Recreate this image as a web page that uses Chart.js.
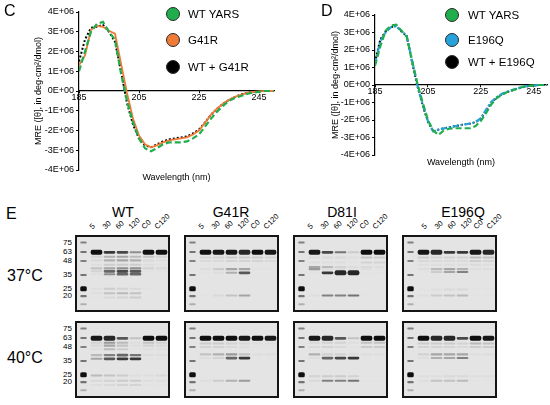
<!DOCTYPE html>
<html>
<head>
<meta charset="utf-8">
<script src="https://cdn.jsdelivr.net/npm/chart.js@4.4.1/dist/chart.umd.min.js"></script>
<style>
body { margin: 0; background: #fff; font-family: "Liberation Sans", Arial, sans-serif; }
#fig { position: relative; width: 550px; height: 405px; overflow: hidden; }
.abs { position: absolute; line-height: 1; white-space: nowrap; color: #000; }
.gel { position: absolute; border: 2px solid #151515; background: #e4e4e4; box-sizing: border-box; }
.gel canvas { display: block; }
.dot { position: absolute; width: 14px; height: 14px; border-radius: 50%; box-sizing: border-box; border: 1px solid #2a2a2a; }
.lane { position: absolute; font-size: 7.5px; line-height: 8px; transform-origin: 0 100%; transform: rotate(-45deg); white-space: nowrap; }
</style>
</head>
<body>
<div id="fig">
  <canvas id="cdC" width="275" height="195" style="position:absolute;left:0;top:0"></canvas>
  <canvas id="cdD" width="275" height="195" style="position:absolute;left:275px;top:0"></canvas>
</div>
<script>
// ---- CD spectra (MRE in units of 1E+06) ----
var wavelengths = [185, 187, 189, 191, 193, 195, 197, 199, 201, 203, 205, 207, 209, 211, 213, 215, 217,
                   219, 221, 223, 225, 227, 229, 231, 233, 235, 237, 239, 241, 243, 245, 247, 250];
var xTicks = [185, 205, 225, 245];

var namesC = ['WT YARS', 'G41R', 'WT + G41R'];
var wtC    = [1.0, 2.0, 3.0, 3.4, 3.5, 3.0, 2.6, 0.9, -0.5, -1.6, -2.4, -2.9, -3.05, -2.9, -2.7, -2.6, -2.6,
              -2.6, -2.55, -2.4, -2.2, -1.8, -1.4, -1.05, -0.75, -0.5, -0.35, -0.25, -0.15, -0.08, -0.04, 0, 0];
var g41rC  = [1.3, 1.8, 3.1, 3.3, 3.25, 3.05, 2.9, 1.4, -0.1, -1.4, -2.25, -2.7, -2.85, -2.75, -2.6, -2.5, -2.45,
              -2.4, -2.35, -2.2, -2.0, -1.6, -1.2, -0.9, -0.65, -0.45, -0.3, -0.2, -0.1, -0.05, -0.02, 0, 0];
var mixC   = [1.5, 2.6, 3.2, 3.25, 3.35, 3.0, 2.5, 1.0, -0.6, -1.7, -2.4, -2.75, -2.85, -2.7, -2.55, -2.45, -2.4,
              -2.35, -2.3, -2.15, -1.95, -1.6, -1.2, -0.9, -0.65, -0.45, -0.3, -0.18, -0.1, -0.04, 0, 0, 0];

var namesD = ['WT YARS', 'E196Q', 'WT + E196Q'];
var wtD    = [1.1, 2.2, 3.1, 3.4, 3.45, 3.1, 2.75, 1.4, 0.1, -1.0, -2.0, -2.6, -2.85, -2.6, -2.5, -2.47, -2.47,
              -2.47, -2.47, -2.35, -2.05, -1.6, -1.1, -0.75, -0.55, -0.4, -0.3, -0.2, -0.1, -0.05, -0.02, 0, 0];
var e196qD = [1.2, 2.5, 3.0, 3.3, 3.35, 3.1, 2.8, 1.4, 0.0, -1.1, -2.05, -2.65, -2.55, -2.48, -2.42, -2.36, -2.3,
              -2.25, -2.2, -2.12, -1.9, -1.4, -0.95, -0.7, -0.5, -0.38, -0.28, -0.18, -0.1, -0.05, -0.02, 0, 0];
var mixD   = [1.3, 2.6, 3.05, 3.3, 3.4, 3.05, 2.8, 1.3, -0.05, -1.15, -2.1, -2.65, -2.55, -2.48, -2.42, -2.36, -2.3,
              -2.25, -2.2, -2.12, -1.92, -1.45, -1.0, -0.72, -0.52, -0.4, -0.3, -0.2, -0.12, -0.06, -0.03, 0, 0];

// ---- SDS-PAGE gels: [position % of gel, 5, 30, 60, 120, C0, C120] band intensity ----
var laneLabels = ['M', '5', '30', '60', '120', 'C0', 'C120'];
var markerLabels = ['75', '63', '48', '35', '25', '20'];
var ladderBands = [[7.5, 0.6], [20.5, 0.65], [33, 0.6], [52, 0.65], [71, 1.0], [81, 0.65], [92, 0.4]];

var wt37 = [[21, 1, 0.85, 0.8, 0.55, 1, 1], [27, 0.2, 0.4, 0.45, 0.35, 0.3, 0.2], [32, 0.15, 0.4, 0.45, 0.4, 0.15, 0.1],
            [38, 0.1, 0.25, 0.25, 0.25, 0.1, 0.05], [43, 0.3, 0.45, 0.55, 0.55, 0.2, 0.15], [47, 0.2, 0.7, 0.8, 0.75, 0.05, 0.05],
            [51, 0.1, 0.55, 0.7, 0.7, 0, 0], [71, 0.1, 0.25, 0.2, 0.15, 0.05, 0], [77, 0.1, 0.3, 0.35, 0.3, 0, 0],
            [83, 0.05, 0.15, 0.2, 0.25, 0, 0]];
var g41r37 = [[21, 1, 0.95, 0.95, 0.9, 1, 0.95], [28, 0.2, 0.2, 0.25, 0.25, 0.25, 0.2], [33, 0.15, 0.15, 0.2, 0.2, 0.2, 0.15],
              [44, 0.1, 0.25, 0.45, 0.45, 0.05, 0.05], [49, 0.05, 0.1, 0.4, 0.75, 0, 0], [80, 0.05, 0.15, 0.3, 0.45, 0, 0]];
var d81i37 = [[21, 0.95, 0.8, 0.65, 0.25, 1, 1], [28, 0.15, 0.15, 0.15, 0.1, 0.3, 0.25], [35, 0.1, 0.1, 0.1, 0.05, 0.2, 0.2],
              [41, 0.45, 0.35, 0.2, 0.1, 0.15, 0.1], [44, 0.5, 0.1, 0.1, 0.05, 0.1, 0.05], [49, 0.05, 0.85, 0.9, 0.9, 0.05, 0.05],
              [80, 0.1, 0.6, 0.6, 0.65, 0.05, 0]];
var e196q37 = [[21, 0.95, 0.9, 0.85, 0.85, 0.95, 0.9], [28, 0.25, 0.2, 0.2, 0.2, 0.35, 0.3], [33, 0.15, 0.15, 0.15, 0.15, 0.25, 0.2],
               [38, 0.1, 0.1, 0.1, 0.1, 0.15, 0.1], [44, 0.1, 0.35, 0.45, 0.4, 0.1, 0.1], [48, 0.05, 0.25, 0.45, 0.6, 0, 0],
               [72, 0.05, 0.1, 0.15, 0.15, 0.05, 0.05], [80, 0.1, 0.25, 0.3, 0.35, 0.05, 0.05]];
var wt40 = [[21, 0.95, 0.9, 0.75, 0.3, 1, 1], [27, 0.2, 0.5, 0.35, 0.1, 0.3, 0.2], [31, 0.15, 0.45, 0.3, 0.1, 0.2, 0.15],
            [36, 0.1, 0.35, 0.25, 0.05, 0.1, 0.1], [44, 0.35, 0.6, 0.7, 0.65, 0.1, 0.1], [49, 0.45, 0.75, 0.85, 0.85, 0.05, 0.05],
            [72, 0.35, 0.3, 0.25, 0.1, 0.1, 0.15], [79, 0.15, 0.2, 0.25, 0.25, 0.1, 0.1], [85, 0.1, 0.15, 0.2, 0.2, 0.05, 0.05]];
var g41r40 = [[21, 1, 1, 1, 0.95, 1, 0.95], [28, 0.25, 0.25, 0.2, 0.15, 0.1, 0.1], [33, 0.2, 0.2, 0.15, 0.1, 0.05, 0.05],
              [43, 0.3, 0.4, 0.5, 0.3, 0.1, 0.1], [48, 0.1, 0.2, 0.7, 0.85, 0, 0], [79, 0.1, 0.25, 0.4, 0.5, 0, 0]];
var d81i40 = [[21, 0.95, 0.9, 0.75, 0.3, 1, 1], [27, 0.15, 0.2, 0.2, 0.1, 0.3, 0.3], [33, 0.15, 0.2, 0.15, 0.05, 0.25, 0.25],
              [43, 0.4, 0.2, 0.2, 0.1, 0.1, 0.1], [48, 0.1, 0.7, 0.8, 0.85, 0, 0], [73, 0.2, 0.25, 0.25, 0.2, 0.05, 0.05],
              [79, 0.15, 0.6, 0.6, 0.65, 0.05, 0.05]];
var e196q40 = [[21, 1, 0.9, 0.9, 0.8, 1, 0.95], [28, 0.25, 0.25, 0.25, 0.2, 0.35, 0.3], [33, 0.2, 0.2, 0.2, 0.15, 0.25, 0.25],
               [43, 0.2, 0.45, 0.45, 0.45, 0.1, 0.1], [48, 0.1, 0.4, 0.45, 0.6, 0, 0], [73, 0.1, 0.1, 0.15, 0.15, 0.1, 0.1],
               [79, 0.1, 0.3, 0.3, 0.35, 0.05, 0.05]];

Chart.defaults.font.family = '"Liberation Sans", Arial, sans-serif';
Chart.defaults.color = '#000';

var fig = document.getElementById('fig');

function addText(txt, left, top, size, center) {
    var s = document.createElement('span');
    s.className = 'abs';
    s.textContent = txt;
    s.style.left = left + 'px';
    s.style.top = top + 'px';
    s.style.fontSize = size + 'px';
    if (center) s.style.transform = 'translateX(-50%)';
    fig.appendChild(s);
    return s;
}

function drawCD(id, series, pad, yWidth) {
    new Chart(document.getElementById(id), {
        type: 'line',
        data: {
            datasets: series.map(function (s) {
                return {
                    label: s.name,
                    data: s.values.map(function (v, i) { return { x: wavelengths[i], y: v }; }),
                    borderColor: s.color,
                    borderWidth: s.width,
                    borderDash: s.dash,
                    pointRadius: 0,
                    tension: 0,
                    fill: false
                };
            })
        },
        options: {
            responsive: false,
            animation: false,
            layout: { padding: pad },
            plugins: { legend: { display: false }, tooltip: { enabled: false } },
            scales: {
                x: {
                    type: 'linear', min: 185, max: 250, position: { y: 0 },
                    afterFit: function (s) { s.height = 0; },
                    afterBuildTicks: function (s) { s.ticks = xTicks.map(function (v) { return { value: v }; }); },
                    grid: { drawOnChartArea: false, color: '#000', tickLength: 2 },
                    border: { color: '#000', width: 1.2 },
                    ticks: { font: { size: 9 }, padding: -1, maxRotation: 0 }
                },
                xt: {
                    type: 'linear', min: 185, max: 250, position: 'bottom',
                    afterFit: function (s) { s.height = 13; },
                    grid: { display: false }, border: { display: false }, ticks: { display: false },
                    title: { display: true, text: 'Wavelength (nm)', font: { size: 9 }, padding: 0 }
                },
                y: {
                    type: 'linear', min: -4, max: 4, position: 'left',
                    afterFit: function (s) { s.width = yWidth; },
                    ticks: {
                        stepSize: 1, font: { size: 9 }, padding: 2,
                        callback: function (v) { return v === 0 ? '0E+00' : v + 'E+06'; }
                    },
                    grid: { drawOnChartArea: false, color: '#000', tickLength: 3 },
                    border: { color: '#000', width: 1.2 },
                    title: { display: true, text: 'MRE ([θ], in deg·cm²/dmol)', font: { size: 9 }, padding: 0 }
                }
            }
        }
    });
}

function addLegend(names, colors, cx, cys, textLeft) {
    names.forEach(function (n, i) {
        var d = document.createElement('div');
        d.className = 'dot';
        d.style.left = (cx - 7) + 'px';
        d.style.top = (cys[i] - 7) + 'px';
        d.style.background = colors[i];
        fig.appendChild(d);
        var t = addText(n, textLeft, cys[i] - 6, 11.5);
        t.style.lineHeight = '12px';
    });
}

var green = '#1fae4b', orange = '#ef7b36', blue = '#27a2dc', black = '#000000';

drawCD('cdC', [
    { name: namesC[0], values: wtC, color: green, width: 2.2, dash: [6, 3] },
    { name: namesC[1], values: g41rC, color: orange, width: 1.8, dash: [] },
    { name: namesC[2], values: mixC, color: black, width: 2, dash: [2, 2] }
], { left: 33, top: 12, right: 1, bottom: 12 }, 46);

drawCD('cdD', [
    { name: namesD[0], values: wtD, color: green, width: 2.2, dash: [6, 3] },
    { name: namesD[1], values: e196qD, color: blue, width: 2.2, dash: [6, 2, 2, 2] },
    { name: namesD[2], values: mixD, color: black, width: 2, dash: [2, 2] }
], { left: 55, top: 15, right: 3, bottom: 27 }, 45);

addLegend(namesC, [green, orange, black], 173, [13.5, 40, 66.5], 188);
addLegend(namesD, [green, blue, black], 452, [15, 40, 62], 468);

addText('C', 4, 3, 16);
addText('D', 321, 3, 16);
addText('E', 6, 206, 16);

// ---- gels ----
function bandHalf(v) { return v >= 0.9 ? 3.4 : (v >= 0.7 ? 1.9 : 1.4); }
function shade(v) { return 'rgba(15,15,15,' + Math.min(1, 1.05 * Math.pow(v, 1.6)) + ')'; }

function drawGel(rows, left, top) {
    var W = 95, H = 77;
    var box = document.createElement('div');
    box.className = 'gel';
    box.style.left = left + 'px';
    box.style.top = top + 'px';
    box.style.width = W + 'px';
    box.style.height = H + 'px';
    var cv = document.createElement('canvas');
    cv.width = W - 4;
    cv.height = H - 4;
    box.appendChild(cv);
    fig.appendChild(box);

    var datasets = [];
    ladderBands.forEach(function (b) {
        datasets.push({
            data: laneLabels.map(function (l, i) { return i === 0 ? [b[0] - bandHalf(b[1]), b[0] + bandHalf(b[1])] : null; }),
            backgroundColor: shade(b[1]),
            barPercentage: 0.5, categoryPercentage: 1, grouped: false, borderRadius: 1.5, borderSkipped: false
        });
    });
    rows.forEach(function (r) {
        datasets.push({
            data: laneLabels.map(function (l, i) {
                return (i === 0 || !r[i]) ? null : [r[0] - bandHalf(r[i]), r[0] + bandHalf(r[i])];
            }),
            backgroundColor: laneLabels.map(function (l, i) { return shade(i === 0 ? 0 : r[i]); }),
            barPercentage: 0.9, categoryPercentage: 1, grouped: false,
            borderRadius: 2, borderSkipped: false
        });
    });

    new Chart(cv, {
        type: 'bar',
        data: { labels: laneLabels, datasets: datasets },
        options: {
            responsive: false,
            animation: false,
            layout: { padding: 0 },
            plugins: { legend: { display: false }, tooltip: { enabled: false } },
            scales: {
                x: { type: 'category', display: false, offset: true },
                y: { type: 'linear', min: 0, max: 100, reverse: true, display: false }
            }
        }
    });
}

function laneCenter(left, i) { return left + 2 + (i + 0.5) * 91 / 7; }

var gelTitles = ['WT', 'G41R', 'D81I', 'E196Q'];
var gelLefts = [75, 184, 293, 402];
var titleCenters = [123, 231, 342, 463];
var laneShift = [0, 0, 0, 5];
var gels37 = [wt37, g41r37, d81i37, e196q37];
var gels40 = [wt40, g41r40, d81i40, e196q40];

gelTitles.forEach(function (t, k) {
    addText(t, titleCenters[k], 205, 14, true);
    drawGel(gels37[k], gelLefts[k], 235);
    drawGel(gels40[k], gelLefts[k], 321);
    laneLabels.forEach(function (l, i) {
        if (i === 0) return;
        var s = document.createElement('span');
        s.className = 'lane';
        s.textContent = l;
        s.style.left = (laneCenter(gelLefts[k], i) - 3 + laneShift[k]) + 'px';
        s.style.top = (231 - 8) + 'px';
        fig.appendChild(s);
    });
});

[235, 321].forEach(function (gtop) {
    markerLabels.forEach(function (m, i) {
        var y = gtop + 2 + ladderBands[i][0] / 100 * 73;
        var s = addText(m, 0, y - 3.8, 8);
        s.style.left = 'auto';
        s.style.right = (550 - 72) + 'px';
    });
});

addText('37°C', 7, 268, 16);
addText('40°C', 7, 350, 16);
</script>
</body>
</html>
